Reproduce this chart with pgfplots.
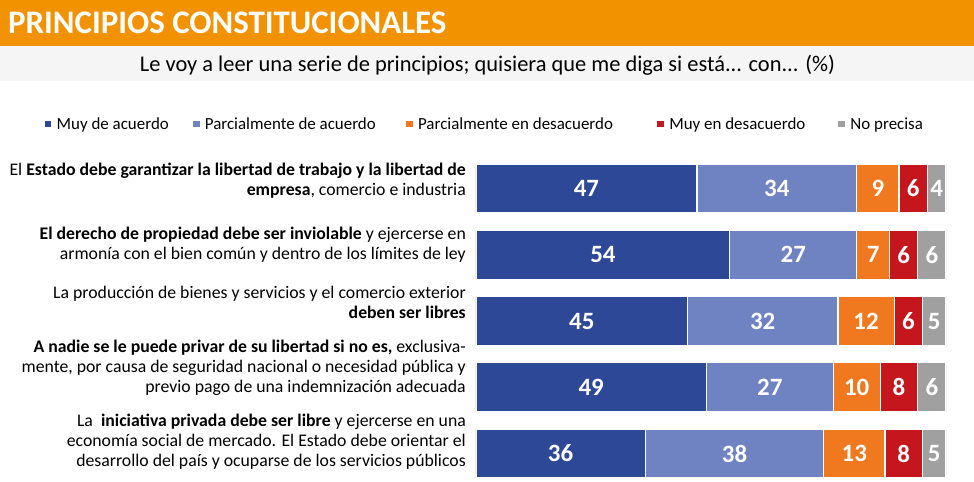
\documentclass[border=0pt]{standalone}
\usepackage{pgfplots}
\pgfplotsset{compat=1.18}
\usepackage{fontspec}
\setmainfont{Carlito}
\definecolor{cA}{RGB}{46,72,152}
\definecolor{cB}{RGB}{111,130,194}
\definecolor{cC}{RGB}{240,120,30}
\definecolor{cD}{RGB}{196,22,28}
\definecolor{cE}{RGB}{160,160,160}
\definecolor{hdr}{RGB}{243,146,0}
\definecolor{band}{RGB}{245,245,245}
\begin{document}
\begin{tikzpicture}
\fill[white] (0,0) rectangle (974bp,-482bp);
\fill[hdr] (0,0) rectangle (974bp,-46bp);
\fill[band] (0,-46bp) rectangle (974bp,-81bp);
\node[anchor=west, text=white, font=\fontsize{33}{33}\selectfont\bfseries, inner sep=0] at (8bp,-23bp) {PRINCIPIOS CONSTITUCIONALES};
\node[font=\fontsize{22.5}{22.5}\selectfont, inner sep=0] at (487.5bp,-65bp) {Le voy a leer una serie de principios; quisiera que me diga si está... con... (\%)};
\begin{axis}[at={(476bp,-155.4bp)}, anchor=north west, scale only axis,
  width=470bp, height=324.6bp, xmin=0, xmax=100, ymin=0.6, ymax=5.5,
  hide axis, xbar stacked, bar width=49bp, point meta=explicit,
  nodes near coords,
  /pgf/number format/assume math mode=true,
  every node near coord/.append style={font=\fontsize{25}{25}\selectfont\bfseries, text=white},
  legend columns=5,
  legend style={draw=none, fill=none, at={(-0.927,1.0967)}, anchor=west,
    font=\fontsize{17}{17}\selectfont, nodes={inner sep=0pt},
    /tikz/every odd column/.append style={column sep=4bp},
    /tikz/every even column/.append style={column sep=0bp}},
  legend image code/.code={\fill[#1] (0bp,-4bp) rectangle (8bp,4bp);},
]
\addplot[fill=cA, draw=white, line width=1.2bp] coordinates {(47,5) [47] (54,4) [54] (45,3) [45] (49,2) [49] (36,1) [36]};
\addplot[fill=cB, draw=white, line width=1.2bp] coordinates {(34,5) [34] (27,4) [27] (32,3) [32] (27,2) [27] (38,1) [38]};
\addplot[fill=cC, draw=white, line width=1.2bp] coordinates {(9,5) [9] (7,4) [7] (12,3) [12] (10,2) [10] (13,1) [13]};
\addplot[fill=cD, draw=white, line width=1.2bp] coordinates {(6,5) [6] (6,4) [6] (6,3) [6] (8,2) [8] (8,1) [8]};
\addplot[fill=cE, draw=white, line width=1.2bp] coordinates {(4,5) [4] (6,4) [6] (5,3) [5] (6,2) [6] (5,1) [5]};
\legend{\makebox[135bp][l]{Muy de acuerdo}, \makebox[200bp][l]{Parcialmente de acuerdo}, \makebox[238bp][l]{Parcialmente en desacuerdo}, \makebox[168bp][l]{Muy en desacuerdo}, No precisa}
\end{axis}
\begin{scope}[every node/.style={anchor=east, align=right, inner sep=0, font=\fontsize{17.8}{20}\selectfont}]
\node at (466bp,-181bp) {El \textbf{Estado debe garantizar la libertad de trabajo y la libertad de}\\\textbf{empresa}, comercio e industria};
\node at (466bp,-245bp) {\textbf{El derecho de propiedad debe ser inviolable} y ejercerse en\\armonía con el bien común y dentro de los límites de ley};
\node at (466bp,-302bp) {La producción de bienes y servicios y el comercio exterior\\\textbf{deben ser libres}};
\node at (466bp,-368bp) {\textbf{A nadie se le puede privar de su libertad si no es,} exclusiva-\\mente, por causa de seguridad nacional o necesidad pública y\\previo pago de una indemnización adecuada};
\node at (466bp,-442bp) {La \ \textbf{iniciativa privada debe ser libre} y ejercerse en una\\economía social de mercado. El Estado debe orientar el\\desarrollo del país y ocuparse de los servicios públicos};
\end{scope}
\end{tikzpicture}
\end{document}
